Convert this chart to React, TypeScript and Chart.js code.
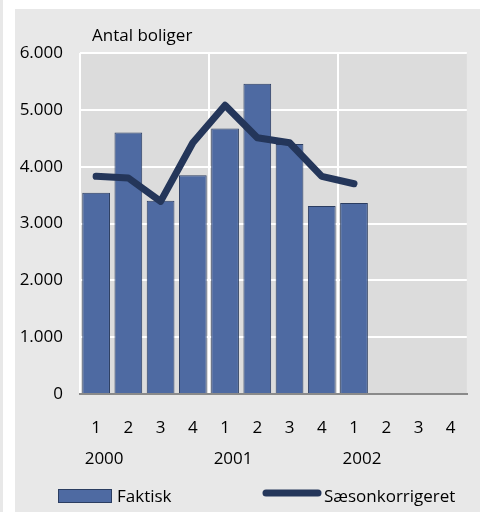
import React, { useEffect, useRef } from 'react';
import { Chart, registerables } from 'chart.js';

Chart.register(...registerables);

const quarterLabels = ['1', '2', '3', '4', '1', '2', '3', '4', '1', '2', '3', '4'];
const yearLabels = ['2000', '', '', '', '2001', '', '', '', '2002', '', '', ''];
const faktisk = [3540, 4600, 3400, 3850, 4670, 5460, 4400, 3310, 3360, null, null, null];
const saesonkorrigeret = [3830, 3800, 3390, 4420, 5080, 4510, 4420, 3830, 3700, null, null, null];
const yTickLabels = ['0', '1.000', '2.000', '3.000', '4.000', '5.000', '6.000'];
const seriesNames = ['Faktisk', 'Sæsonkorrigeret'];
const unitLabel = 'Antal boliger';

const BAR_FILL = '#4e6aa2';
const BAR_BORDER = '#2b3d61';
const LINE_COLOR = '#24365a';
const FONT_FAMILY = "'Open Sans', sans-serif";

export default function App() {
  const ref = useRef<HTMLCanvasElement>(null);

  useEffect(() => {
    document.body.style.margin = '0';
    const font = { family: FONT_FAMILY, size: 17 };

    const decorations = {
      id: 'decorations',
      beforeDraw(chart: any) {
        const { ctx, chartArea: a } = chart;
        ctx.save();
        ctx.fillStyle = '#dcdcdc';
        ctx.fillRect(a.left, a.top, a.right - a.left, a.bottom - a.top);
        ctx.restore();
      },
      afterDraw(chart: any) {
        const { ctx, chartArea: a } = chart;
        const ds = chart.data.datasets;
        ctx.save();
        ctx.font = `17px ${FONT_FAMILY}`;
        ctx.fillStyle = '#000';
        ctx.textAlign = 'left';
        ctx.textBaseline = 'alphabetic';
        // unit label above plot
        ctx.fillText(unitLabel, a.left + 12, a.top - 12);

        // legend
        const base = chart.height - 10;
        const mid = chart.height - 16;
        const bar = ds[1];
        const line = ds[0];
        // item 1: bar swatch
        ctx.fillStyle = bar.backgroundColor;
        ctx.fillRect(43, mid - 7, 54, 14);
        ctx.strokeStyle = bar.borderColor;
        ctx.lineWidth = 1;
        ctx.strokeRect(43.5, mid - 6.5, 53, 13);
        ctx.fillStyle = '#000';
        ctx.fillText(bar.label, 102, base);
        // item 2: line swatch
        ctx.strokeStyle = line.borderColor;
        ctx.lineWidth = line.borderWidth;
        ctx.lineCap = 'round';
        ctx.beginPath();
        ctx.moveTo(251, mid - 3);
        ctx.lineTo(303, mid - 3);
        ctx.stroke();
        ctx.fillStyle = '#000';
        ctx.fillText(line.label, 309, base);
        ctx.restore();
      },
    };

    const chart = new Chart(ref.current!, {
      data: {
        labels: quarterLabels,
        datasets: [
          {
            type: 'line',
            label: seriesNames[1],
            data: saesonkorrigeret,
            borderColor: LINE_COLOR,
            backgroundColor: LINE_COLOR,
            borderWidth: 7,
            borderJoinStyle: 'round',
            borderCapStyle: 'round',
            pointRadius: 0,
            pointHoverRadius: 0,
            fill: false,
            tension: 0,
            order: 0,
          } as any,
          {
            type: 'bar',
            label: seriesNames[0],
            data: faktisk,
            backgroundColor: BAR_FILL,
            borderColor: BAR_BORDER,
            borderWidth: 1,
            barPercentage: 0.86,
            categoryPercentage: 1,
            order: 1,
          } as any,
        ],
      },
      options: {
        responsive: false,
        maintainAspectRatio: false,
        devicePixelRatio: 1,
        animation: false,
        events: [],
        layout: { padding: { left: 0, right: 10, top: 44, bottom: 43 } },
        scales: {
          x: {
            type: 'category',
            offset: true,
            grid: {
              offset: true,
              color: (c: any) => (c.index % 4 === 0 ? '#ffffff' : 'rgba(0,0,0,0)'),
              lineWidth: 2,
              drawTicks: false,
            },
            border: { display: true, color: '#8a8a8a', width: 2 },
            ticks: { font, color: '#000', padding: 24, autoSkip: false, maxRotation: 0 },
            afterFit: (s: any) => {
              s.height = 45;
            },
          },
          x2: {
            type: 'category',
            labels: yearLabels,
            position: 'bottom',
            offset: true,
            grid: { display: false, drawTicks: false },
            border: { display: false },
            ticks: { font, color: '#000', padding: 10, autoSkip: false, maxRotation: 0, labelOffset: 8 },
            afterFit: (s: any) => {
              s.height = 30;
            },
          },
          y: {
            min: 0,
            max: 6000,
            ticks: {
              stepSize: 1000,
              padding: 17,
              font,
              color: '#000',
              callback: (_v: any, i: number) => yTickLabels[i],
            },
            grid: {
              color: (c: any) => (c.index === 0 ? 'rgba(0,0,0,0)' : '#ffffff'),
              lineWidth: 2,
              drawTicks: false,
            },
            border: { display: false },
            afterFit: (s: any) => {
              s.width = 65;
            },
          },
        } as any,
        plugins: {
          tooltip: { enabled: false },
          title: { display: false },
          legend: { display: false },
        },
      } as any,
      plugins: [decorations],
    } as any);

    return () => chart.destroy();
  }, []);

  return (
    <div style={{ position: 'relative', width: 480, height: 512, background: '#ffffff', overflow: 'hidden' }}>
      <div style={{ position: 'absolute', left: 0, top: 0, width: 3, height: 512, background: '#e8e8e8' }} />
      <div style={{ position: 'absolute', left: 15, top: 9, width: 465, height: 503, background: '#e8e8e8' }}>
        <canvas ref={ref} width={465} height={503} style={{ display: 'block' }} />
      </div>
    </div>
  );
}
